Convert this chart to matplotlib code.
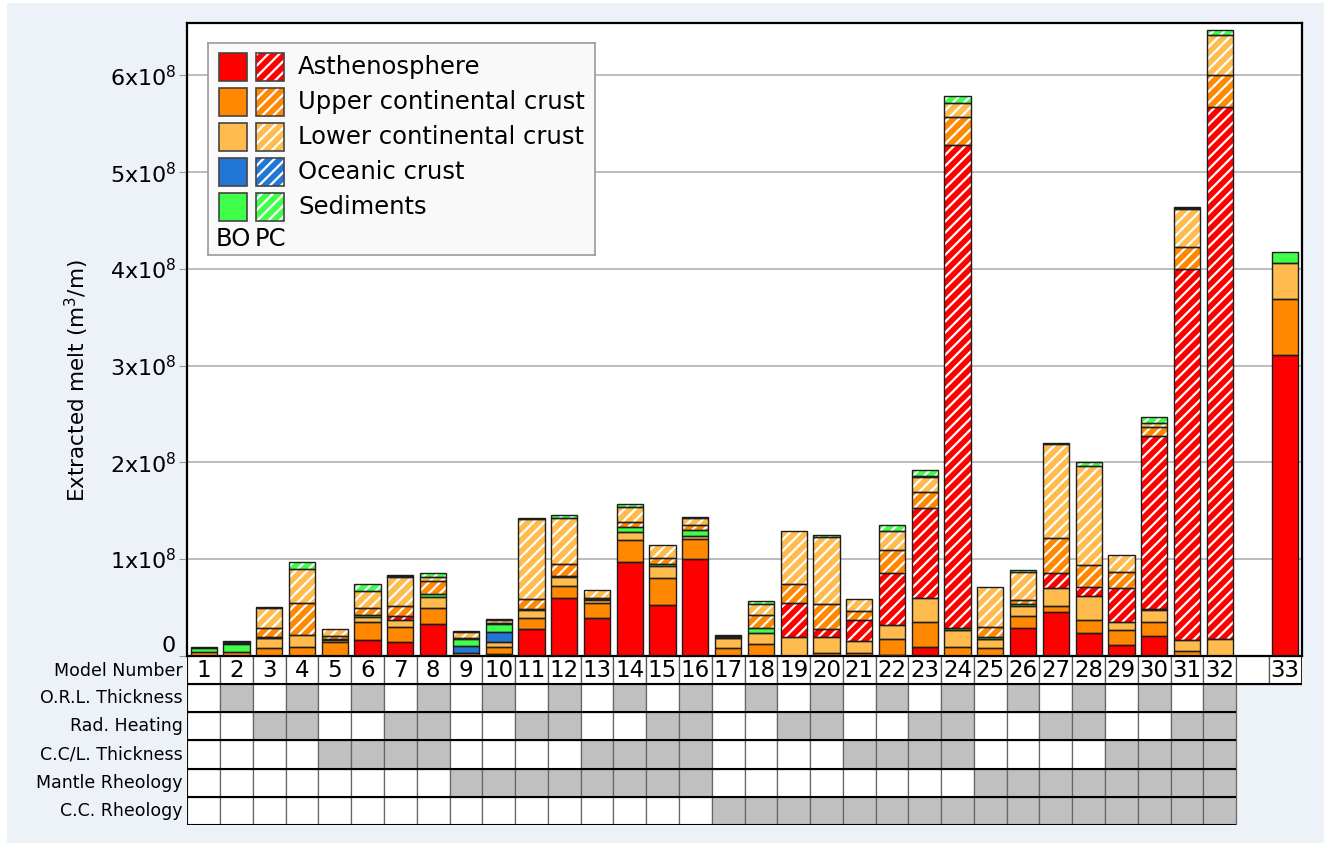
import numpy as np
import matplotlib.pyplot as plt
from matplotlib.patches import Rectangle

plt.rcParams['hatch.linewidth'] = 1.6

# model numbers 1..33
models = [str(i) for i in range(1, 34)]

# extracted melt, in units of 1e8 m^3/m, stacked bottom to top
# BO = solid, PC = hatched
bo_asth = [0, 0, 0, 0, 0, 0.165, 0.14, 0.33, 0, 0.02, 0.28, 0.60, 0.386, 0.972, 0.524, 1.0,
           0, 0, 0, 0, 0, 0.01, 0.093, 0, 0, 0.29, 0.455, 0.231, 0.11, 0.2, 0, 0, 3.106]
bo_ucc = [0.035, 0.04, 0.08, 0.09, 0.14, 0.18, 0.16, 0.16, 0.03, 0.07, 0.11, 0.125, 0.155, 0.225, 0.276, 0.203,
          0.076, 0.121, 0, 0.03, 0.03, 0.159, 0.259, 0.093, 0.076, 0.12, 0.062, 0.138, 0.156, 0.15, 0.05, 0, 0.584]
bo_lcc = [0, 0, 0.10, 0.12, 0.02, 0.055, 0.07, 0.12, 0, 0.05, 0.085, 0.085, 0.03, 0.079, 0.131, 0.038,
          0.103, 0.11, 0.197, 0.16, 0.118, 0.148, 0.248, 0.172, 0.093, 0.104, 0.18, 0.248, 0.086, 0.125, 0.11, 0.17, 0.366]
bo_ocean = [0, 0, 0.005, 0, 0, 0, 0, 0, 0.07, 0.11, 0, 0, 0, 0, 0, 0,
            0.005, 0, 0, 0, 0, 0, 0, 0.005, 0.006, 0, 0, 0, 0, 0, 0, 0, 0]
bo_sed = [0.04, 0.08, 0.005, 0, 0.01, 0.02, 0, 0.025, 0.07, 0.08, 0.01, 0.015, 0.012, 0.058, 0.017, 0.059,
          0.01, 0.059, 0, 0, 0, 0, 0, 0.012, 0.015, 0.02, 0, 0, 0, 0.01, 0, 0, 0.115]
pc_asth = [0, 0, 0, 0, 0, 0, 0.04, 0, 0, 0, 0, 0, 0, 0, 0, 0,
           0, 0, 0.344, 0.086, 0.221, 0.535, 0.924, 5.003, 0, 0, 0.155, 0.097, 0.345, 1.79, 3.84, 5.507, 0]
pc_ucc = [0, 0.01, 0.10, 0.34, 0.03, 0.07, 0.105, 0.14, 0.01, 0.01, 0.10, 0.12, 0.01, 0.045, 0.059, 0.052,
          0, 0.131, 0.197, 0.258, 0.097, 0.241, 0.166, 0.289, 0.11, 0.042, 0.362, 0.224, 0.172, 0.095, 0.225, 0.323, 0]
pc_lcc = [0, 0.015, 0.20, 0.35, 0.08, 0.18, 0.30, 0.035, 0.06, 0.03, 0.825, 0.475, 0.086, 0.155, 0.138, 0.069,
          0.01, 0.11, 0.552, 0.69, 0.117, 0.2, 0.162, 0.146, 0.407, 0.286, 0.972, 1.028, 0.172, 0.035, 0.395, 0.42, 0]
pc_ocean = [0, 0, 0, 0, 0, 0, 0.005, 0, 0, 0, 0, 0, 0, 0, 0, 0,
            0, 0, 0, 0, 0, 0, 0.01, 0, 0, 0, 0.011, 0, 0, 0, 0.012, 0, 0]
pc_sed = [0.01, 0.01, 0.01, 0.07, 0, 0.07, 0.01, 0.05, 0.015, 0.01, 0.015, 0.04, 0, 0.032, 0, 0.017,
          0.006, 0.035, 0, 0.028, 0, 0.055, 0.059, 0.07, 0, 0.024, 0, 0.034, 0, 0.065, 0.01, 0.055, 0]

# model parameter table (1 = grey cell), models 1..32
row_labels = ['O.R.L. Thickness', 'Rad. Heating', 'C.C/L. Thickness', 'Mantle Rheology', 'C.C. Rheology']
orl_thick = [0, 1, 0, 1, 0, 1, 0, 1, 0, 1, 0, 1, 0, 1, 0, 1, 0, 1, 0, 1, 0, 1, 0, 1, 0, 1, 0, 1, 0, 1, 0, 1]
rad_heat = [0, 0, 1, 1, 0, 0, 1, 1, 0, 0, 1, 1, 0, 0, 1, 1, 0, 0, 1, 1, 0, 0, 1, 1, 0, 0, 1, 1, 0, 0, 1, 1]
ccl_thick = [0, 0, 0, 0, 1, 1, 1, 1, 0, 0, 0, 0, 1, 1, 1, 1, 0, 0, 0, 0, 1, 1, 1, 1, 0, 0, 0, 0, 1, 1, 1, 1]
mantle_rheo = [0, 0, 0, 0, 0, 0, 0, 0, 1, 1, 1, 1, 1, 1, 1, 1, 0, 0, 0, 0, 0, 0, 0, 0, 1, 1, 1, 1, 1, 1, 1, 1]
cc_rheo = [0, 0, 0, 0, 0, 0, 0, 0, 0, 0, 0, 0, 0, 0, 0, 0, 1, 1, 1, 1, 1, 1, 1, 1, 1, 1, 1, 1, 1, 1, 1, 1]

legend_labels = ['Asthenosphere', 'Upper continental crust', 'Lower continental crust', 'Oceanic crust', 'Sediments']
colors = ['#ff0000', '#ff8800', '#ffbb4d', '#2277d6', '#40ff4a']

W, H = 1324, 843
BG = '#edf1f8'
EDGE = '#1e1e1e'
HATCH = '///'

fig = plt.figure(figsize=(W / 100, H / 100), dpi=100)
fig.patch.set_facecolor('white')
fig.add_artist(Rectangle((7 / W, 0), 1 - 7 / W, 1 - 3 / H, transform=fig.transFigure,
                         facecolor=BG, edgecolor='none', zorder=-10))

ax_l, ax_r, ax_t, ax_b = 187.3, 1301.7, 22.7, 655.7
ax = fig.add_axes([ax_l / W, 1 - ax_b / H, (ax_r - ax_l) / W, (ax_b - ax_t) / H])

# slot 32 stays empty, model 33 sits in slot 33
xpos = np.array(list(range(32)) + [33])

layers = [(bo_asth, 0, False), (bo_ucc, 1, False), (bo_lcc, 2, False), (bo_ocean, 3, False), (bo_sed, 4, False),
          (pc_asth, 0, True), (pc_ucc, 1, True), (pc_lcc, 2, True), (pc_ocean, 3, True), (pc_sed, 4, True)]
bottom = np.zeros(len(xpos))
for vals, ci, hatched in layers:
    v = np.array(vals) * 1e8
    m = v > 0
    if hatched:
        ax.bar(xpos[m], v[m], 0.8, bottom=bottom[m], color=colors[ci], edgecolor='white',
               hatch=HATCH, linewidth=0, zorder=2)
    else:
        ax.bar(xpos[m], v[m], 0.8, bottom=bottom[m], color=colors[ci], linewidth=0, zorder=2)
    ax.bar(xpos[m], v[m], 0.8, bottom=bottom[m], fill=False, edgecolor=EDGE, linewidth=1.0, zorder=3)
    bottom += v

ax.set_xlim(-0.5, 33.5)
ax.set_ylim(0, 6.546e8)
ax.set_xticks([])
ax.set_yticks(np.arange(7) * 1e8)
ax.set_yticklabels(['0'] + ['%dx10$^8$' % k for k in range(1, 7)])
ax.tick_params(axis='y', direction='out', length=6, color='#999999', labelsize=16, pad=2)
ax.get_yticklabels()[0].set_verticalalignment('bottom')
ax.yaxis.grid(True, color='#b8b8b8', linewidth=1.3)
ax.set_axisbelow(True)
for s in ax.spines.values():
    s.set_linewidth(1.6)
    s.set_color('black')
ax.set_ylabel('Extracted melt (m$^3$/m)', fontsize=15.5)
ax.yaxis.set_label_coords(-0.086, 0.434)

# parameter table under the bars
tb = 825.0
tax = fig.add_axes([ax_l / W, 1 - tb / H, (ax_r - ax_l) / W, (tb - ax_b) / H])
tax.set_xlim(-0.5, 33.5)
tax.set_ylim(6, 0)
tax.axis('off')

for i in range(34):
    tax.add_patch(Rectangle((i - 0.5, 0), 1, 1, facecolor='white', edgecolor='#555555', linewidth=0.9))
for k, x in enumerate(xpos):
    tax.text(x, 0.52, models[k], ha='center', va='center', fontsize=16.5)

table_rows = [orl_thick, rad_heat, ccl_thick, mantle_rheo, cc_rheo]
for r, row in enumerate(table_rows):
    for i, flag in enumerate(row):
        tax.add_patch(Rectangle((i - 0.5, r + 1), 1, 1, facecolor='#c0c0c0' if flag else 'white',
                                edgecolor='#666666', linewidth=0.9))
tax.hlines([0, 1], -0.5, 33.5, color='black', linewidth=1.5)
tax.hlines([2, 3, 4, 5, 6], -0.5, 31.5, color='black', linewidth=1.5)
tax.vlines(-0.5, 0, 6, color='black', linewidth=1.2)
tax.vlines(33.5, 0, 1, color='black', linewidth=1.2)

tax.text(-0.65, 0.55, 'Model Number', ha='right', va='center', fontsize=12.5)
for r, lab in enumerate(row_labels):
    tax.text(-0.65, r + 1.5, lab, ha='right', va='center', fontsize=12.5)

# legend box
lx0, lx1, ly0, ly1 = 208.0, 595.0, 42.7, 255.0
lax = fig.add_axes([lx0 / W, 1 - ly1 / H, (lx1 - lx0) / W, (ly1 - ly0) / H])
lax.set_xlim(lx0, lx1)
lax.set_ylim(ly1, ly0)
lax.set_xticks([])
lax.set_yticks([])
lax.set_facecolor('#f9f9f9')
for s in lax.spines.values():
    s.set_color('#999999')
    s.set_linewidth(1.2)
lax.set_zorder(5)

for k, lab in enumerate(legend_labels):
    y = 53.3 + k * 35
    lax.add_patch(Rectangle((219.3, y), 28, 28, facecolor=colors[k], edgecolor='#444444', linewidth=1.2))
    lax.add_patch(Rectangle((256, y), 28, 28, facecolor=colors[k], edgecolor='white', hatch=HATCH, linewidth=0))
    lax.add_patch(Rectangle((256, y), 28, 28, fill=False, edgecolor='#444444', linewidth=1.2))
    lax.text(298, y + 14, lab, ha='left', va='center', fontsize=17.5)
lax.text(233.3, 239, 'BO', ha='center', va='center', fontsize=17.5)
lax.text(270, 239, 'PC', ha='center', va='center', fontsize=17.5)

fig.savefig('out.png', dpi=100, facecolor=fig.get_facecolor())
